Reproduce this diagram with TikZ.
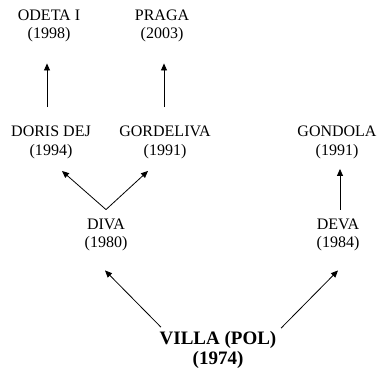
\documentclass[tikz,border=0pt]{standalone}
\usepackage{fontspec}
\setmainfont{Liberation Serif}
\usetikzlibrary{arrows.meta,calc}
\begin{document}
\begin{tikzpicture}[x=1pt,y=-1pt,
  horse/.style={align=center,inner sep=0pt,font=\fontsize{16}{18.5}\selectfont},
  root/.style={align=center,inner sep=0pt,font=\fontsize{19}{20}\selectfont\bfseries},
  arr/.style={-{Triangle[length=7pt,width=6pt]},line width=0.8pt,black}]
\useasboundingbox (0,0) rectangle (377,370);
\node[horse] (odeta) at (49,26) {ODETA I\\(1998)};
\node[horse] (praga) at (162,26) {PRAGA\\(2003)};
\node[horse] (doris) at (51,142.5) {DORIS DEJ\\(1994)};
\node[horse] (gordeliva) at (165,142.5) {GORDELIVA\\(1991)};
\node[horse] (gondola) at (337,142.5) {GONDOLA\\(1991)};
\node[horse] (diva) at (106,235) {DIVA\\(1980)};
\node[horse] (deva) at (338,235) {DEVA\\(1984)};
\node[root] (villa) at (218,350) {VILLA (POL)\\(1974)};
\draw[arr] ($(doris.north)+(-4,-19)$) -- ($(odeta.south)+(-2,21)$);
\draw[arr] ($(gordeliva.north)+(-1,-19)$) -- ($(praga.south)+(2,21)$);
\draw[arr] ($(diva.north)+(0,-9)$) -- ($(doris.south)+(11,12)$);
\draw[arr] ($(diva.north)+(0,-9)$) -- ($(gordeliva.south)+(-17,12)$);
\draw[arr] ($(deva.north)+(2,-9)$) -- ($(gondola.south)+(3,10)$);
\draw[arr] ($(villa.north west)+(1.5,-4)$) -- ($(diva.south)+(-1,19)$);
\draw[arr] ($(villa.north east)+(4.5,-3)$) -- ($(deva.south)+(0,19)$);
\end{tikzpicture}
\end{document}
